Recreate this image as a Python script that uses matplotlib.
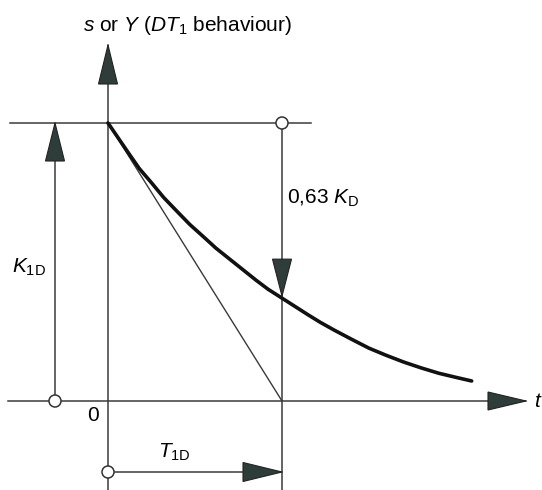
import matplotlib
matplotlib.use("Agg")
import matplotlib.pyplot as plt
from matplotlib.patches import Polygon, Ellipse

plt.rcParams['font.family'] = ['Liberation Sans', 'DejaVu Sans']
plt.rcParams['mathtext.fontset'] = 'custom'
plt.rcParams['mathtext.rm'] = 'Liberation Sans'
plt.rcParams['mathtext.it'] = 'Liberation Sans:italic'

# DT1 step response, time in units of T1D, output in units of K1D
curve_t = [0.00, 0.06, 0.12, 0.18, 0.25, 0.32, 0.40, 0.47, 0.55, 0.62, 0.70, 0.78, 0.85, 0.92,
           1.00, 1.08, 1.15, 1.22, 1.30, 1.40, 1.50, 1.60, 1.70, 1.80, 1.90, 2.00, 2.09]
curve_y = [1.00, 0.945, 0.89, 0.836, 0.785, 0.732, 0.68, 0.635, 0.59, 0.55, 0.51, 0.47, 0.435, 0.402,
           0.37, 0.338, 0.31, 0.283, 0.255, 0.222, 0.19, 0.164, 0.14, 0.119, 0.10, 0.085, 0.072]

K = 1.0          # K1D
T = 1.0          # T1D
K_MARK = 0.37    # level reached after T1D (drop of 0,63 K_D)

# drawing scale: pixels per unit
PX_X = 174.0
PX_Y = 278.0
X0_PX, Y0_PX = 108.0, 401.0
W, H = 542, 490
FS = 15

fig = plt.figure(figsize=(W / 100, H / 100), dpi=100)
ax = fig.add_axes([0, 0, 1, 1])
ax.set_xlim(-X0_PX / PX_X, (W - X0_PX) / PX_X)
ax.set_ylim(-(H - Y0_PX) / PX_Y, Y0_PX / PX_Y)
ax.axis('off')

LC = '#3a3a3a'
FC = '#2f3d3a'
LW = 1.1


def arrow_head(tip, direction, length_px=38, half_px=9.5):
    tx, ty = tip
    lx, ly = length_px / PX_X, length_px / PX_Y
    hx, hy = half_px / PX_X, half_px / PX_Y
    if direction == 'up':
        pts = [(tx, ty), (tx - hx, ty - ly), (tx + hx, ty - ly)]
    elif direction == 'down':
        pts = [(tx, ty), (tx - hx, ty + ly), (tx + hx, ty + ly)]
    else:  # right
        pts = [(tx, ty), (tx - lx, ty + hy), (tx - lx, ty - hy)]
    ax.add_patch(Polygon(pts, closed=True, facecolor=FC, edgecolor='#222222', lw=0.8, zorder=5))


def ring(x, y, r_px=6.0):
    ax.add_patch(Ellipse((x, y), 2 * r_px / PX_X, 2 * r_px / PX_Y, facecolor='white',
                         edgecolor='#333333', lw=1.1, zorder=6))


ybot = ax.get_ylim()[0]
ytop_tip = (Y0_PX - 45) / PX_Y
x_left = -(X0_PX - 8) / PX_X
x_tip = (526 - X0_PX) / PX_X
k_x = -(X0_PX - 55) / PX_X
t_row = -(472 - Y0_PX) / PX_Y

# time axis
ax.plot([x_left, x_tip], [0, 0], color=LC, lw=LW, zorder=2)
arrow_head((x_tip, 0), 'right', length_px=38, half_px=9)
ax.text(x_tip + 12 / PX_X, 0, '$\\mathit{t}$', fontsize=FS, ha='center', va='center')

# output axis
ax.plot([0, 0], [ybot, ytop_tip], color=LC, lw=LW, zorder=2)
arrow_head((0, ytop_tip), 'up', length_px=39, half_px=9.5)
ax.text((187 - X0_PX) / PX_X, (Y0_PX - 26) / PX_Y,
        '$\\mathit{s}$ or $\\mathit{Y}$ ($\\mathit{DT}_\\mathrm{1}$ behaviour)',
        fontsize=FS, ha='center', va='center')
ax.text(-15 / PX_X, -14 / PX_Y, '0', fontsize=FS, ha='center', va='center')

# initial level line
ax.plot([-(X0_PX - 10) / PX_X, (311 - X0_PX) / PX_X], [K, K], color=LC, lw=LW, zorder=2)

# vertical at T1D
ax.plot([T, T], [ybot, K], color=LC, lw=LW, zorder=2)
ring(T, K)
arrow_head((T, K_MARK + 2 / PX_Y), 'down', length_px=37, half_px=9.5)
ax.text(T + 5 / PX_X, (Y0_PX - 198) / PX_Y, '0,63 $\\mathit{K}_\\mathrm{D}$',
        fontsize=FS, ha='left', va='center')

# K1D dimension
ax.plot([k_x, k_x], [0, K], color=LC, lw=LW, zorder=2)
ring(k_x, 0)
arrow_head((k_x, K), 'up', length_px=38, half_px=9.5)
ax.text(-(X0_PX - 29) / PX_X, (Y0_PX - 267) / PX_Y, '$\\mathit{K}_\\mathrm{1D}$',
        fontsize=FS, ha='center', va='center')

# T1D dimension
ax.plot([0, T], [t_row, t_row], color=LC, lw=LW, zorder=2)
ring(0, t_row)
arrow_head((T, t_row), 'right', length_px=39, half_px=9.5)
ax.text((174 - X0_PX) / PX_X, -(452 - Y0_PX) / PX_Y, '$\\mathit{T}_\\mathrm{1D}$',
        fontsize=FS, ha='center', va='center')

# initial tangent
ax.plot([0, T], [K, 0], color=LC, lw=1.0, zorder=3)

# response curve
ax.plot(curve_t, curve_y, color='#111111', lw=2.6, solid_joinstyle='round',
        solid_capstyle='round', zorder=4)

fig.savefig('out.png', dpi=100)
